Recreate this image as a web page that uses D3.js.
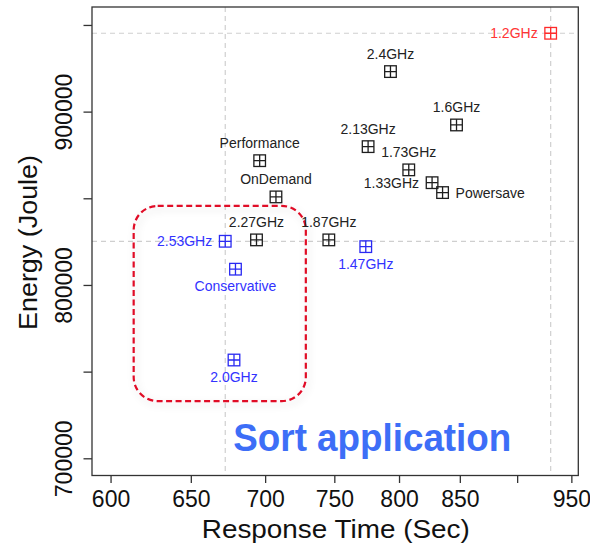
<!DOCTYPE html>
<html>
<head>
<meta charset="utf-8">
<script src="https://cdn.jsdelivr.net/npm/d3@7"></script>
<style>
  html, body { margin: 0; padding: 0; background: #ffffff; }
  svg { display: block; }
  text { font-family: "Liberation Sans", Arial, Helvetica, sans-serif; }
</style>
</head>
<body>
<svg id="chart" width="590" height="545"></svg>
<script>
// ---------- data ----------
const configs      = ["1.2GHz","2.4GHz","1.6GHz","2.13GHz","1.73GHz","1.33GHz","Powersave",
                      "Performance","OnDemand","2.27GHz","2.53GHz","1.87GHz","1.47GHz","Conservative","2.0GHz"];
const responseTime = [930.6, 793.2, 847.2, 775.7, 807.8, 826.8, 835.5,
                      696.2, 707.6, 694.0, 672.7, 745.9, 773.9, 679.6, 678.6];
const energy       = [945200, 923100, 892300, 879800, 866400, 859000, 853300,
                      871700, 850800, 826000, 825200, 826000, 822100, 809100, 756700];
const category     = ["worst","normal","normal","normal","normal","normal","normal",
                      "normal","normal","normal","best","normal","best","best","best"];
const xTickValues  = [600, 650, 700, 750, 800, 850, 900, 950];
const xTickLabels  = ["600","650","700","750","800","850","","950"];
const yTickValues  = [700000, 750000, 800000, 850000, 900000, 950000];
const yTickLabels  = ["700000","","800000","","900000",""];
const highlightTime   = [614, 729];
const highlightEnergy = [733000, 845600];
const xTitle = "Response Time (Sec)";
const yTitle = "Energy (Joule)";
const note   = "Sort application";

// label placement per point (relative to its marker)
const labelSide = {
  "1.2GHz":"left","2.4GHz":"above","1.6GHz":"above","2.13GHz":"above","1.73GHz":"above",
  "1.33GHz":"left","Powersave":"right","Performance":"above","OnDemand":"above",
  "2.27GHz":"above","2.53GHz":"left","1.87GHz":"above","1.47GHz":"below",
  "Conservative":"below","2.0GHz":"below"
};
const markColor  = { worst: "#ff2a2a", normal: "#1e1e1e", best: "#2a2af2" };
const labelColor = { worst: "#ff3535", normal: "#222222", best: "#3232ff" };

const points = configs.map((c, i) => ({ name: c, t: responseTime[i], e: energy[i], cat: category[i] }));

// ---------- layout ----------
const svg = d3.select("#chart");
const L = 92, R = 578.3, T = 7, B = 475.5;

const x = d3.scaleLog().domain([589, 956.6]).range([L, R]);
const y = d3.scaleLinear().domain([690075, 960357]).range([B, T]);

// shadow filter for highlight box
const defs = svg.append("defs");
const f = defs.append("filter").attr("id", "glow").attr("x", "-20%").attr("y", "-20%").attr("width", "140%").attr("height", "140%");
f.append("feGaussianBlur").attr("in", "SourceAlpha").attr("stdDeviation", 4).attr("result", "b");
f.append("feOffset").attr("in", "b").attr("dx", 2).attr("dy", 3).attr("result", "o");
f.append("feComponentTransfer").attr("in", "o").attr("result", "s")
  .append("feFuncA").attr("type", "linear").attr("slope", 0.18);
const fm = f.append("feMerge");
fm.append("feMergeNode").attr("in", "s");
fm.append("feMergeNode").attr("in", "SourceGraphic");

// reference dashed lines (fastest config and worst config)
const fastest = points[d3.minIndex(points, d => d.t)];
const slowest = points[d3.maxIndex(points, d => d.t)];
const refG = svg.append("g").attr("stroke", "#cfcfcf").attr("stroke-width", 1.2).attr("stroke-dasharray", "5,4").attr("fill", "none");
[fastest, slowest].forEach(p => {
  refG.append("line").attr("x1", x(p.t)).attr("x2", x(p.t)).attr("y1", T).attr("y2", B);
  refG.append("line").attr("x1", L).attr("x2", R).attr("y1", y(p.e)).attr("y2", y(p.e));
});

// highlight rounded box
svg.append("rect")
  .attr("x", x(highlightTime[0])).attr("y", y(highlightEnergy[1]))
  .attr("width", x(highlightTime[1]) - x(highlightTime[0]))
  .attr("height", y(highlightEnergy[0]) - y(highlightEnergy[1]))
  .attr("rx", 24).attr("ry", 24)
  .attr("fill", "none").attr("stroke", "#e00a26").attr("stroke-width", 2.2)
  .attr("stroke-dasharray", "6,3.5")
  .attr("filter", "url(#glow)");

// plot frame
svg.append("rect").attr("x", L).attr("y", T).attr("width", R - L).attr("height", B - T)
  .attr("fill", "none").attr("stroke", "#333").attr("stroke-width", 1.3);

// x axis
const xAxis = d3.axisBottom(x).tickValues(xTickValues)
  .tickFormat((d, i) => xTickLabels[i]).tickSizeInner(7.5).tickSizeOuter(0).tickPadding(6);
const gx = svg.append("g").attr("transform", `translate(0,${B})`).call(xAxis);
gx.select(".domain").remove();
gx.selectAll(".tick line").attr("stroke", "#333").attr("stroke-width", 1.3);
gx.selectAll(".tick text").attr("font-size", 23).attr("fill", "#111")
  .attr("font-family", "'Liberation Sans', Arial, sans-serif").attr("dy", "0.71em").attr("y", 15);

// y axis
const yAxis = d3.axisLeft(y).tickValues(yTickValues)
  .tickFormat((d, i) => yTickLabels[i]).tickSizeInner(8.5).tickSizeOuter(0);
const gy = svg.append("g").attr("transform", `translate(${L},0)`).call(yAxis);
gy.select(".domain").remove();
gy.selectAll(".tick line").attr("stroke", "#333").attr("stroke-width", 1.3);
gy.selectAll(".tick text")
  .attr("font-size", 23).attr("fill", "#111")
  .attr("font-family", "'Liberation Sans', Arial, sans-serif")
  .attr("text-anchor", "middle").attr("x", 0).attr("dy", 0)
  .attr("transform", "translate(-20.3,0) rotate(-90)");

// axis titles
svg.append("text").attr("x", 335.8).attr("y", 538.3).attr("text-anchor", "middle")
  .attr("font-size", 26).attr("fill", "#111")
  .attr("textLength", 268).attr("lengthAdjust", "spacingAndGlyphs").text(xTitle);
svg.append("text").attr("transform", "translate(36.7,242.5) rotate(-90)").attr("text-anchor", "middle")
  .attr("font-size", 26).attr("fill", "#111")
  .attr("textLength", 175).attr("lengthAdjust", "spacingAndGlyphs").text(yTitle);

// markers (square with cross)
const s = 5.8;
const mk = svg.append("g").selectAll("g").data(points).join("g")
  .attr("transform", d => `translate(${x(d.t)},${y(d.e)})`)
  .attr("stroke", d => markColor[d.cat]).attr("stroke-width", 1.3).attr("fill", "none");
mk.append("rect").attr("x", -s).attr("y", -s).attr("width", 2 * s).attr("height", 2 * s);
mk.append("path").attr("d", `M${-s},0H${s}M0,${-s}V${s}`);

// point labels
svg.append("g").selectAll("text").data(points).join("text")
  .attr("font-size", 14)
  .attr("fill", d => labelColor[d.cat])
  .attr("text-anchor", d => ({ left: "end", right: "start", above: "middle", below: "middle" })[labelSide[d.name]])
  .attr("x", d => {
    const side = labelSide[d.name];
    return x(d.t) + (side === "left" ? -13 : side === "right" ? 13 : 0);
  })
  .attr("y", d => {
    const side = labelSide[d.name];
    return y(d.e) + (side === "above" ? -13 : side === "below" ? 22 : 5);
  })
  .text(d => d.name);

// annotation
svg.append("text").attr("x", 233.3).attr("y", 450.7)
  .attr("font-family", "'Open Sans', Lato, sans-serif").attr("font-weight", 600)
  .attr("font-size", 38.5).attr("fill", "#3d6ef7")
  .attr("textLength", 278).attr("lengthAdjust", "spacingAndGlyphs").text(note);
</script>
</body>
</html>
